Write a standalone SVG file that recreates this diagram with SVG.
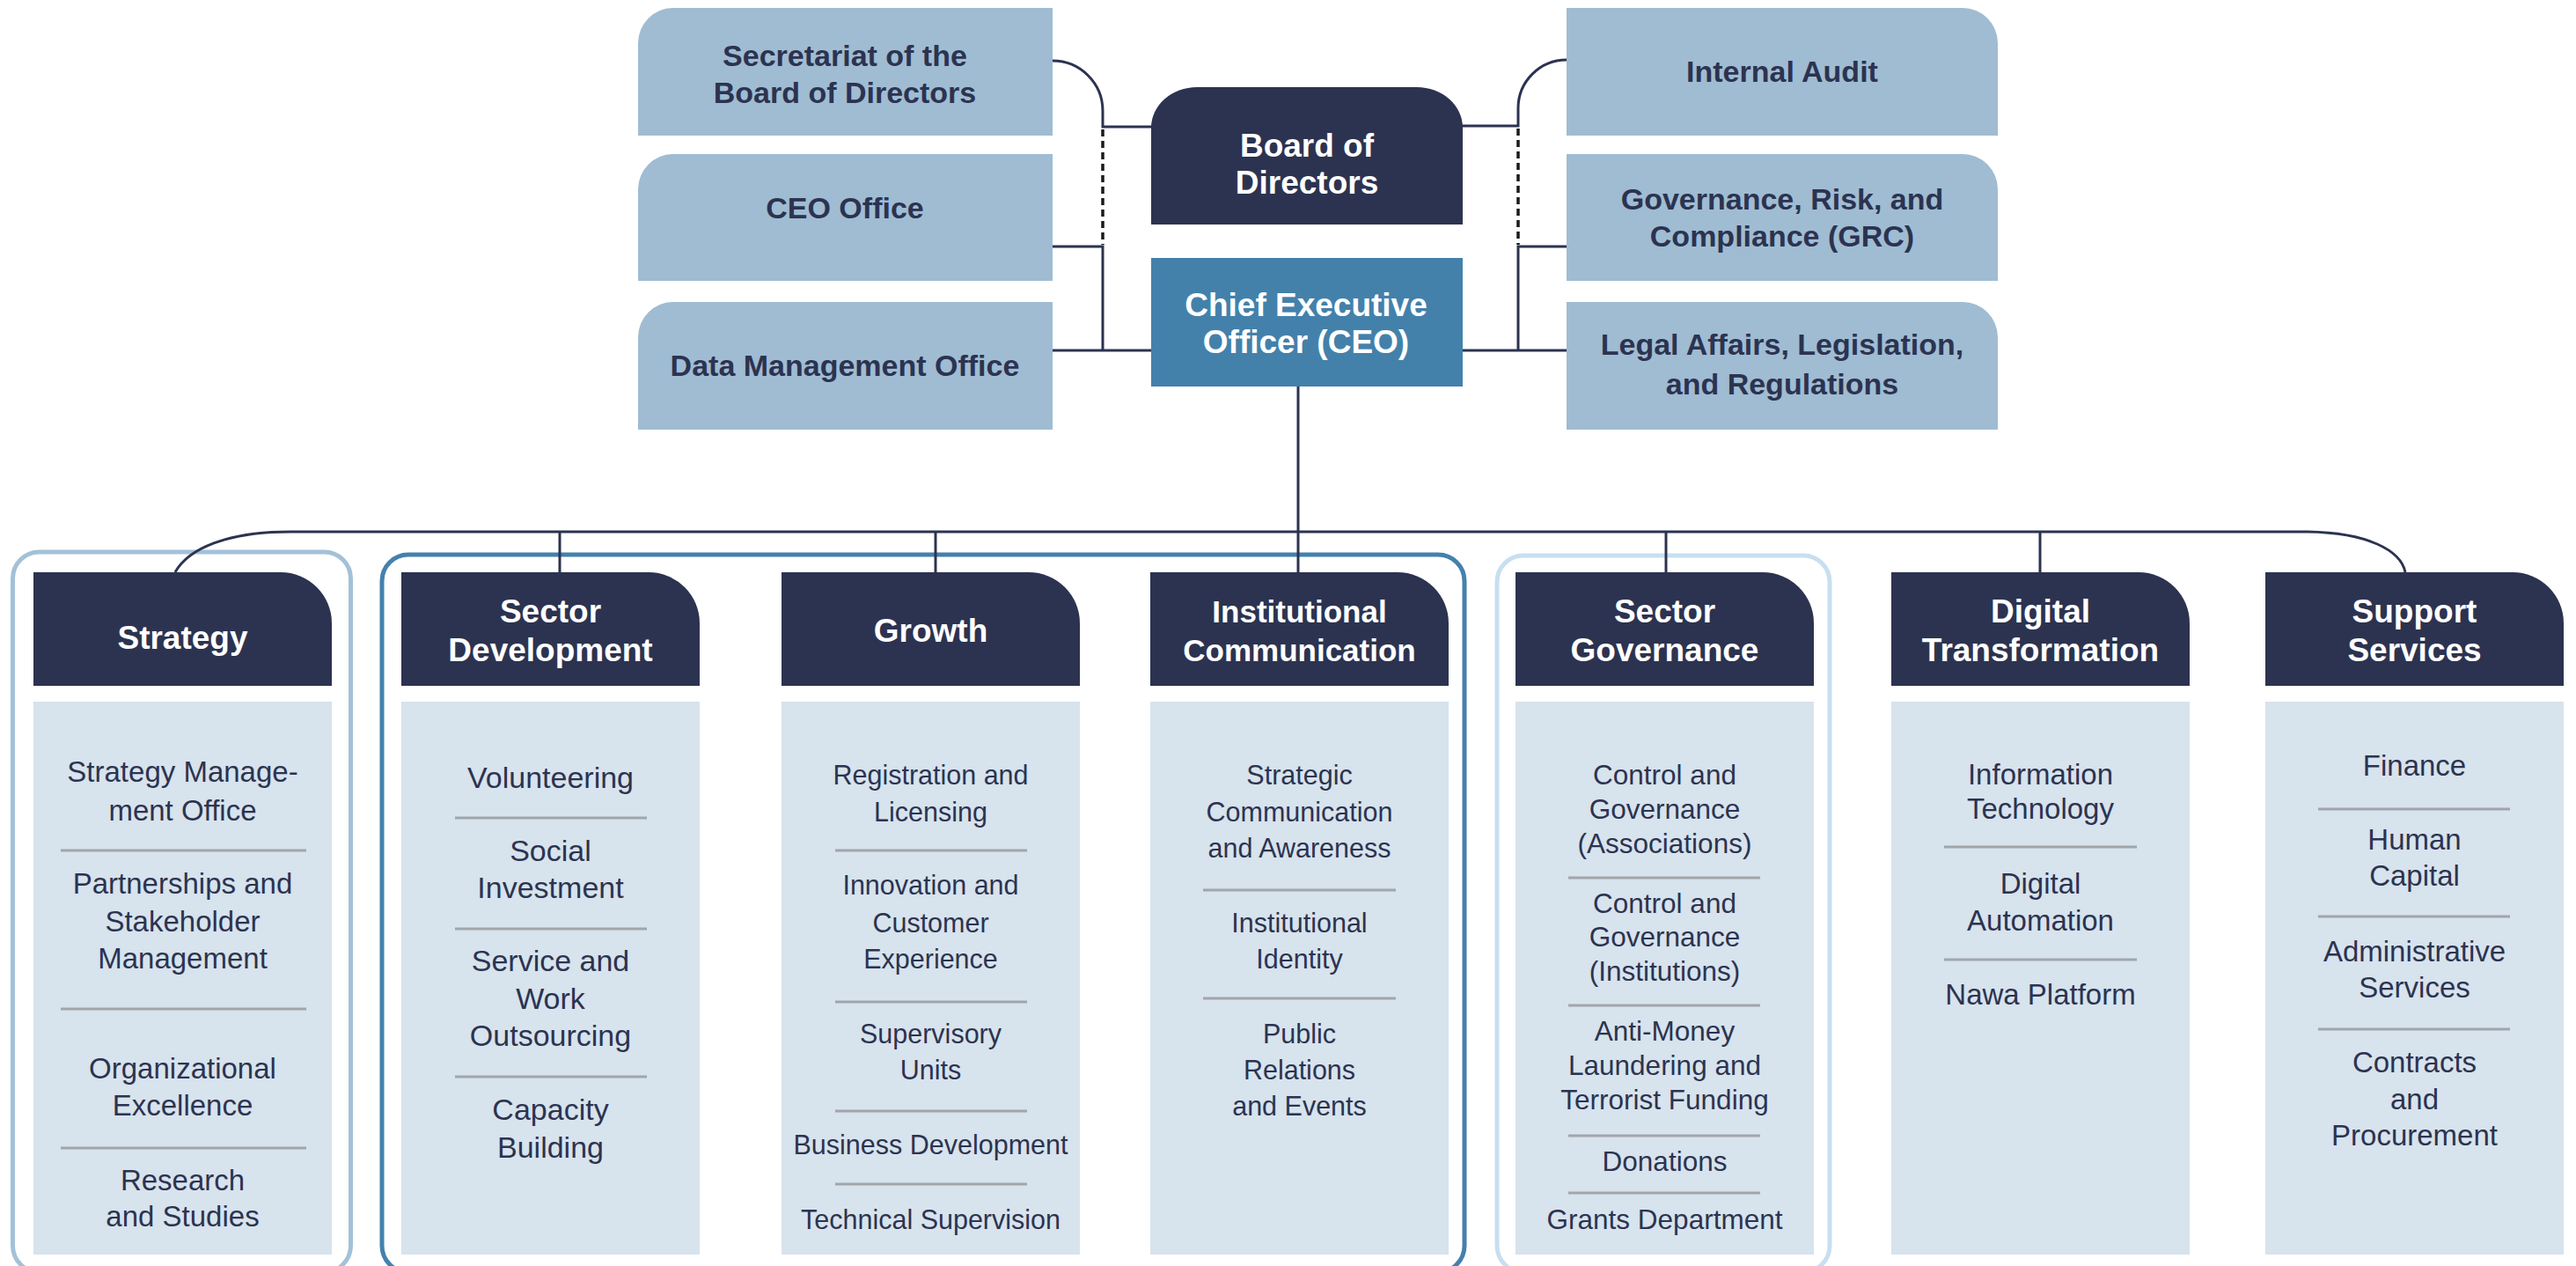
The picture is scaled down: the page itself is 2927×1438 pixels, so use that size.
<svg xmlns="http://www.w3.org/2000/svg" width="2927" height="1438" viewBox="0 0 2927 1438">
<style>
text{font-family:"Liberation Sans",Arial,sans-serif;text-anchor:middle}
.tb{fill:#2c3350;font-weight:bold;font-size:34px}
.wh{fill:#ffffff;font-weight:bold;font-size:37px}
.hd{fill:#ffffff;font-weight:bold;font-size:37px}
.it{fill:#2c3350;font-size:33px}
.lb{fill:#9fbcd3}
.nv{fill:#2c3350}
.bd{fill:#d7e3ed}
.dv{stroke:#a1a6ab;stroke-width:3;fill:none}
.ln{stroke:#2c3350;stroke-width:3;fill:none}
.ds{stroke:#1a1a1a;stroke-width:3.5;fill:none;stroke-dasharray:8 5}
.fr{fill:none;stroke-width:5}
</style>
<rect width="2927" height="1438" fill="#ffffff"/>

<!-- frames -->
<g id="frames">
<rect class="fr" x="14.5" y="627" width="384" height="818" rx="30" stroke="#a3c1d8"/>
<rect class="fr" x="434" y="630" width="1230" height="815" rx="30" stroke="#4481ad"/>
<rect class="fr" x="1701" y="631" width="378" height="814" rx="30" stroke="#c7dff0"/>
</g>

<!-- connectors -->
<g id="connectors">
<path class="ln" d="M1196,69 A57,57 0 0 1 1253,126 V144 H1310"/>
<path class="ds" d="M1253,147 V278"/>
<path class="ln" d="M1196,280 H1253 V398"/>
<path class="ln" d="M1196,398 H1310"/>
<path class="ln" d="M1780,68 A55,55 0 0 0 1725,123 V143 H1660"/>
<path class="ds" d="M1725,146 V278"/>
<path class="ln" d="M1780,280 H1725 V398"/>
<path class="ln" d="M1660,398 H1780"/>
<path class="ln" d="M1475,439 V650"/>
<path class="ln" d="M199,650 C214,623 258,604 330,604 H2622 C2690,605 2728,625 2733,650"/>
<path class="ln" d="M636,604 V650"/>
<path class="ln" d="M1063,604 V650"/>
<path class="ln" d="M1893,604 V650"/>
<path class="ln" d="M2318,604 V650"/>
</g>

<!-- top boxes -->
<g id="secretariat">
<path class="lb" d="M725,154 V49 A40,40 0 0 1 765,9 H1196 V154 Z"/>
<text class="tb" x="960" y="75">Secretariat of the</text>
<text class="tb" x="960" y="117">Board of Directors</text>
</g>
<g id="ceo-office">
<path class="lb" d="M725,319 V215 A40,40 0 0 1 765,175 H1196 V319 Z"/>
<text class="tb" x="960" y="248">CEO Office</text>
</g>
<g id="data-management">
<path class="lb" d="M725,488 V383 A40,40 0 0 1 765,343 H1196 V488 Z"/>
<text class="tb" x="960" y="427">Data Management Office</text>
</g>
<g id="internal-audit">
<path class="lb" d="M1780,154 V9 H2230 A40,40 0 0 1 2270,49 V154 Z"/>
<text class="tb" x="2025" y="93">Internal Audit</text>
</g>
<g id="grc">
<path class="lb" d="M1780,319 V175 H2230 A40,40 0 0 1 2270,215 V319 Z"/>
<text class="tb" x="2025" y="238">Governance, Risk, and</text>
<text class="tb" x="2025" y="280">Compliance (GRC)</text>
</g>
<g id="legal">
<path class="lb" d="M1780,488 V343 H2230 A40,40 0 0 1 2270,383 V488 Z"/>
<text class="tb" x="2025" y="403">Legal Affairs, Legislation,</text>
<text class="tb" x="2025" y="448">and Regulations</text>
</g>
<g id="board">
<path class="nv" d="M1308,255 V145 A52,46 0 0 1 1360,99 H1610 A52,46 0 0 1 1662,145 V255 Z"/>
<text class="wh" x="1485" y="178">Board of</text>
<text class="wh" x="1485" y="220">Directors</text>
</g>
<g id="ceo">
<rect x="1308" y="293" width="354" height="146" fill="#4381ab"/>
<text class="wh" x="1484" y="359">Chief Executive</text>
<text class="wh" x="1484" y="401">Officer (CEO)</text>
</g>

<!-- departments -->
<g id="strategy">
<path class="nv" d="M38,779 V650 H319 A58,58 0 0 1 377,708 V779 Z"/>
<text class="hd" x="207.5" y="737">Strategy</text>
<rect class="bd" x="38" y="797" width="339" height="628"/>
<g class="it">
<text x="207.5" y="888">Strategy Manage-</text>
<text x="207.5" y="932">ment Office</text>
<text x="207.5" y="1015">Partnerships and</text>
<text x="207.5" y="1058">Stakeholder</text>
<text x="207.5" y="1100">Management</text>
<text x="207.5" y="1225">Organizational</text>
<text x="207.5" y="1267">Excellence</text>
<text x="207.5" y="1352">Research</text>
<text x="207.5" y="1393">and Studies</text>
</g>
<path class="dv" d="M69,966 H348 M69,1146 H348 M69,1304 H348"/>
</g>

<g id="sector-development">
<path class="nv" d="M456,779 V650 H737 A58,58 0 0 1 795,708 V779 Z"/>
<text class="hd" x="625.5" y="707">Sector</text>
<text class="hd" x="625.5" y="751">Development</text>
<rect class="bd" x="456" y="797" width="339" height="628"/>
<g class="it" style="font-size:34px">
<text x="625.5" y="895">Volunteering</text>
<text x="625.5" y="978">Social</text>
<text x="625.5" y="1020">Investment</text>
<text x="625.5" y="1103">Service and</text>
<text x="625.5" y="1146">Work</text>
<text x="625.5" y="1188">Outsourcing</text>
<text x="625.5" y="1272">Capacity</text>
<text x="625.5" y="1315">Building</text>
</g>
<path class="dv" d="M517,929 H735 M517,1055 H735 M517,1223 H735"/>
</g>

<g id="growth">
<path class="nv" d="M888,779 V650 H1169 A58,58 0 0 1 1227,708 V779 Z"/>
<text class="hd" x="1057.5" y="729">Growth</text>
<rect class="bd" x="888" y="797" width="339" height="628"/>
<g class="it" style="font-size:30.5px">
<text x="1057.5" y="891">Registration and</text>
<text x="1057.5" y="933">Licensing</text>
<text x="1057.5" y="1016">Innovation and</text>
<text x="1057.5" y="1059">Customer</text>
<text x="1057.5" y="1100">Experience</text>
<text x="1057.5" y="1185">Supervisory</text>
<text x="1057.5" y="1226">Units</text>
<text x="1057.5" y="1311">Business Development</text>
<text x="1057.5" y="1396">Technical Supervision</text>
</g>
<path class="dv" d="M949,966 H1167 M949,1138 H1167 M949,1262 H1167 M949,1345 H1167"/>
</g>

<g id="institutional-communication">
<path class="nv" d="M1307,779 V650 H1588 A58,58 0 0 1 1646,708 V779 Z"/>
<text class="hd" x="1476.5" y="707" style="font-size:35px">Institutional</text>
<text class="hd" x="1476.5" y="751" style="font-size:35px">Communication</text>
<rect class="bd" x="1307" y="797" width="339" height="628"/>
<g class="it" style="font-size:30.5px">
<text x="1476.5" y="891">Strategic</text>
<text x="1476.5" y="933">Communication</text>
<text x="1476.5" y="974">and Awareness</text>
<text x="1476.5" y="1059">Institutional</text>
<text x="1476.5" y="1100">Identity</text>
<text x="1476.5" y="1185">Public</text>
<text x="1476.5" y="1226">Relations</text>
<text x="1476.5" y="1267">and Events</text>
</g>
<path class="dv" d="M1367,1011 H1586 M1367,1134 H1586"/>
</g>

<g id="sector-governance">
<path class="nv" d="M1722,779 V650 H2003 A58,58 0 0 1 2061,708 V779 Z"/>
<text class="hd" x="1891.5" y="707">Sector</text>
<text class="hd" x="1891.5" y="751">Governance</text>
<rect class="bd" x="1722" y="797" width="339" height="628"/>
<g class="it" style="font-size:31.5px">
<text x="1891.5" y="891">Control and</text>
<text x="1891.5" y="930">Governance</text>
<text x="1891.5" y="969">(Associations)</text>
<text x="1891.5" y="1037">Control and</text>
<text x="1891.5" y="1075">Governance</text>
<text x="1891.5" y="1114">(Institutions)</text>
<text x="1891.5" y="1182">Anti-Money</text>
<text x="1891.5" y="1221">Laundering and</text>
<text x="1891.5" y="1260">Terrorist Funding</text>
<text x="1891.5" y="1330">Donations</text>
<text x="1891.5" y="1396">Grants Department</text>
</g>
<path class="dv" d="M1782,997 H2000 M1782,1142 H2000 M1782,1290 H2000 M1782,1355 H2000"/>
</g>

<g id="digital-transformation">
<path class="nv" d="M2149,779 V650 H2430 A58,58 0 0 1 2488,708 V779 Z"/>
<text class="hd" x="2318.5" y="707">Digital</text>
<text class="hd" x="2318.5" y="751">Transformation</text>
<rect class="bd" x="2149" y="797" width="339" height="628"/>
<g class="it">
<text x="2318.5" y="891">Information</text>
<text x="2318.5" y="930">Technology</text>
<text x="2318.5" y="1015">Digital</text>
<text x="2318.5" y="1057">Automation</text>
<text x="2318.5" y="1141">Nawa Platform</text>
</g>
<path class="dv" d="M2209,962 H2428 M2209,1090 H2428"/>
</g>

<g id="support-services">
<path class="nv" d="M2574,779 V650 H2855 A58,58 0 0 1 2913,708 V779 Z"/>
<text class="hd" x="2743.5" y="707">Support</text>
<text class="hd" x="2743.5" y="751">Services</text>
<rect class="bd" x="2574" y="797" width="339" height="628"/>
<g class="it">
<text x="2743.5" y="881">Finance</text>
<text x="2743.5" y="965">Human</text>
<text x="2743.5" y="1006">Capital</text>
<text x="2743.5" y="1092">Administrative</text>
<text x="2743.5" y="1133">Services</text>
<text x="2743.5" y="1218">Contracts</text>
<text x="2743.5" y="1260">and</text>
<text x="2743.5" y="1301">Procurement</text>
</g>
<path class="dv" d="M2634,919 H2852 M2634,1041 H2852 M2634,1169 H2852"/>
</g>
</svg>
